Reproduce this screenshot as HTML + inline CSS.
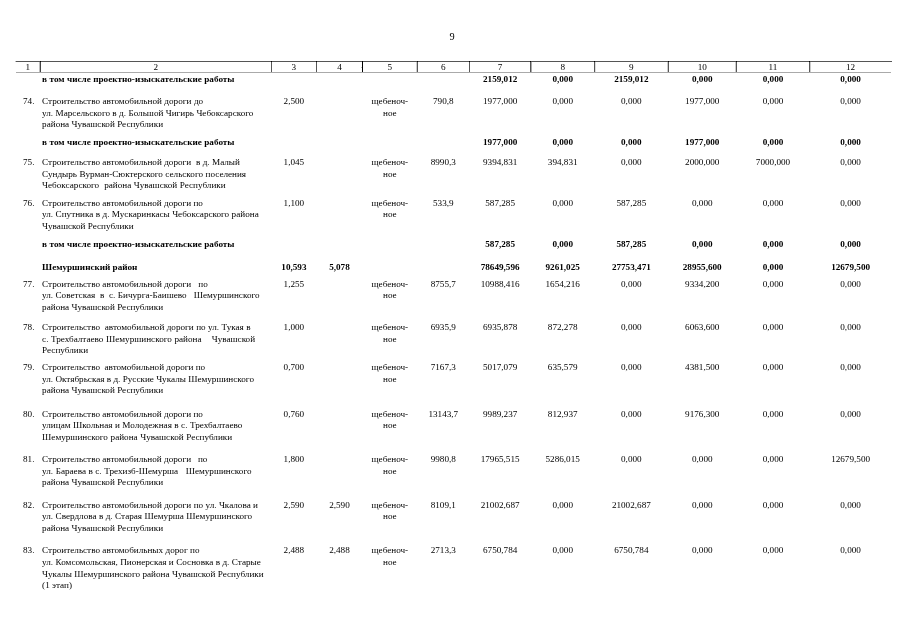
<!DOCTYPE html>
<html lang="ru"><head><meta charset="utf-8"><title>9</title>
<style>
html,body{margin:0;padding:0;background:#fff;}
body{width:905px;height:640px;position:relative;overflow:hidden;font-family:"Liberation Serif",serif;font-size:9.17px;color:#000;}
.t{position:absolute;white-space:nowrap;line-height:12.0px;height:12.0px;}
.b{font-weight:bold;}
.hl{position:absolute;height:1px;background:#000;}
.vl{position:absolute;width:1px;background:#000;}
#pg{position:absolute;left:0;top:0;width:905px;height:640px;filter:grayscale(1);}
</style></head><body><div id="pg">
<div class="hl" style="left:15px;top:61px;width:877px;background:#555"></div>
<div class="hl" style="left:15px;top:61px;width:1px;background:#bbb"></div>
<div class="hl" style="left:16px;top:72px;width:875px;background:#aaa"></div>
<div class="vl" style="left:40px;top:61px;height:11px;background:#444"></div>
<div class="vl" style="left:40px;top:61px;height:1px;background:#000"></div>
<div class="vl" style="left:39px;top:62px;height:10px;background:#bbb"></div>
<div class="vl" style="left:271px;top:61px;height:11px;background:#555"></div>
<div class="vl" style="left:271px;top:61px;height:1px;background:#000"></div>
<div class="vl" style="left:316px;top:61px;height:11px;background:#555"></div>
<div class="vl" style="left:316px;top:61px;height:1px;background:#000"></div>
<div class="vl" style="left:362px;top:61px;height:11px;background:#000"></div>
<div class="vl" style="left:362px;top:61px;height:1px;background:#000"></div>
<div class="vl" style="left:417px;top:61px;height:11px;background:#555"></div>
<div class="vl" style="left:417px;top:61px;height:1px;background:#000"></div>
<div class="vl" style="left:416px;top:62px;height:10px;background:#ccc"></div>
<div class="vl" style="left:469px;top:61px;height:11px;background:#555"></div>
<div class="vl" style="left:469px;top:61px;height:1px;background:#000"></div>
<div class="vl" style="left:530px;top:61px;height:11px;background:#555"></div>
<div class="vl" style="left:530px;top:61px;height:1px;background:#000"></div>
<div class="vl" style="left:531px;top:62px;height:10px;background:#aaa"></div>
<div class="vl" style="left:594px;top:61px;height:11px;background:#555"></div>
<div class="vl" style="left:594px;top:61px;height:1px;background:#000"></div>
<div class="vl" style="left:595px;top:62px;height:10px;background:#ddd"></div>
<div class="vl" style="left:668px;top:61px;height:11px;background:#555"></div>
<div class="vl" style="left:668px;top:61px;height:1px;background:#000"></div>
<div class="vl" style="left:667px;top:62px;height:10px;background:#ccc"></div>
<div class="vl" style="left:736px;top:61px;height:11px;background:#555"></div>
<div class="vl" style="left:736px;top:61px;height:1px;background:#000"></div>
<div class="vl" style="left:735px;top:62px;height:10px;background:#ccc"></div>
<div class="vl" style="left:809px;top:61px;height:11px;background:#555"></div>
<div class="vl" style="left:809px;top:61px;height:1px;background:#000"></div>
<div class="vl" style="left:810px;top:62px;height:10px;background:#ccc"></div>
<div class="vl" style="left:361px;top:67px;height:1px;background:#bbb"></div>
<div class="t" style="top:30.52px;font-size:10.3px;left:392.00px;width:120px;text-align:center;">9</div>
<div class="t" style="top:60.91px;left:-32.10px;width:120px;text-align:center;">1</div>
<div class="t" style="top:60.91px;left:95.85px;width:120px;text-align:center;">2</div>
<div class="t" style="top:60.91px;left:233.90px;width:120px;text-align:center;">3</div>
<div class="t" style="top:60.91px;left:279.45px;width:120px;text-align:center;">4</div>
<div class="t" style="top:60.91px;left:329.85px;width:120px;text-align:center;">5</div>
<div class="t" style="top:60.91px;left:383.30px;width:120px;text-align:center;">6</div>
<div class="t" style="top:60.91px;left:440.15px;width:120px;text-align:center;">7</div>
<div class="t" style="top:60.91px;left:502.70px;width:120px;text-align:center;">8</div>
<div class="t" style="top:60.91px;left:571.35px;width:120px;text-align:center;">9</div>
<div class="t" style="top:60.91px;left:642.25px;width:120px;text-align:center;">10</div>
<div class="t" style="top:60.91px;left:713.00px;width:120px;text-align:center;">11</div>
<div class="t" style="top:60.91px;left:790.60px;width:120px;text-align:center;">12</div>
<div class="t b" style="top:72.91px;left:42.10px;word-spacing:0.200px;">в том числе проектно-изыскательские работы</div>
<div class="t b" style="top:72.91px;left:440.15px;width:120px;text-align:center;">2159,012</div>
<div class="t b" style="top:72.91px;left:502.70px;width:120px;text-align:center;">0,000</div>
<div class="t b" style="top:72.91px;left:571.35px;width:120px;text-align:center;">2159,012</div>
<div class="t b" style="top:72.91px;left:642.25px;width:120px;text-align:center;">0,000</div>
<div class="t b" style="top:72.91px;left:713.00px;width:120px;text-align:center;">0,000</div>
<div class="t b" style="top:72.91px;left:790.60px;width:120px;text-align:center;">0,000</div>
<div class="t" style="top:94.91px;left:23.00px;">74.</div>
<div class="t" style="top:94.91px;left:42.10px;word-spacing:0.167px;">Строительство автомобильной дороги до</div>
<div class="t" style="top:106.91px;left:42.10px;word-spacing:0.083px;">ул. Марсельского в д. Большой Чигирь Чебоксарского</div>
<div class="t" style="top:117.91px;left:42.10px;">района Чувашской Республики</div>
<div class="t" style="top:94.91px;left:233.90px;width:120px;text-align:center;">2,500</div>
<div class="t" style="top:94.91px;left:329.85px;width:120px;text-align:center;">щебеноч-</div>
<div class="t" style="top:106.91px;left:329.85px;width:120px;text-align:center;">ное</div>
<div class="t" style="top:94.91px;left:383.30px;width:120px;text-align:center;">790,8</div>
<div class="t" style="top:94.91px;left:440.15px;width:120px;text-align:center;">1977,000</div>
<div class="t" style="top:94.91px;left:502.70px;width:120px;text-align:center;">0,000</div>
<div class="t" style="top:94.91px;left:571.35px;width:120px;text-align:center;">0,000</div>
<div class="t" style="top:94.91px;left:642.25px;width:120px;text-align:center;">1977,000</div>
<div class="t" style="top:94.91px;left:713.00px;width:120px;text-align:center;">0,000</div>
<div class="t" style="top:94.91px;left:790.60px;width:120px;text-align:center;">0,000</div>
<div class="t b" style="top:135.91px;left:42.10px;word-spacing:0.200px;">в том числе проектно-изыскательские работы</div>
<div class="t b" style="top:135.91px;left:440.15px;width:120px;text-align:center;">1977,000</div>
<div class="t b" style="top:135.91px;left:502.70px;width:120px;text-align:center;">0,000</div>
<div class="t b" style="top:135.91px;left:571.35px;width:120px;text-align:center;">0,000</div>
<div class="t b" style="top:135.91px;left:642.25px;width:120px;text-align:center;">1977,000</div>
<div class="t b" style="top:135.91px;left:713.00px;width:120px;text-align:center;">0,000</div>
<div class="t b" style="top:135.91px;left:790.60px;width:120px;text-align:center;">0,000</div>
<div class="t" style="top:155.91px;left:23.00px;">75.</div>
<div class="t" style="top:155.91px;left:42.10px;word-spacing:0.083px;">Строительство автомобильной дороги&nbsp; в д. Малый</div>
<div class="t" style="top:167.91px;left:42.10px;word-spacing:0.167px;">Сундырь Вурман-Сюктерского сельского поселения</div>
<div class="t" style="top:178.91px;left:42.10px;word-spacing:0.250px;">Чебоксарского&nbsp; района Чувашской Республики</div>
<div class="t" style="top:155.91px;left:233.90px;width:120px;text-align:center;">1,045</div>
<div class="t" style="top:155.91px;left:329.85px;width:120px;text-align:center;">щебеноч-</div>
<div class="t" style="top:167.91px;left:329.85px;width:120px;text-align:center;">ное</div>
<div class="t" style="top:155.91px;left:383.30px;width:120px;text-align:center;">8990,3</div>
<div class="t" style="top:155.91px;left:440.15px;width:120px;text-align:center;">9394,831</div>
<div class="t" style="top:155.91px;left:502.70px;width:120px;text-align:center;">394,831</div>
<div class="t" style="top:155.91px;left:571.35px;width:120px;text-align:center;">0,000</div>
<div class="t" style="top:155.91px;left:642.25px;width:120px;text-align:center;">2000,000</div>
<div class="t" style="top:155.91px;left:713.00px;width:120px;text-align:center;">7000,000</div>
<div class="t" style="top:155.91px;left:790.60px;width:120px;text-align:center;">0,000</div>
<div class="t" style="top:196.91px;left:23.00px;">76.</div>
<div class="t" style="top:196.91px;left:42.10px;">Строительство автомобильной дороги по</div>
<div class="t" style="top:207.91px;left:42.10px;word-spacing:0.133px;">ул. Спутника в д. Мускаринкасы Чебоксарского района</div>
<div class="t" style="top:219.91px;left:42.10px;">Чувашской Республики</div>
<div class="t" style="top:196.91px;left:233.90px;width:120px;text-align:center;">1,100</div>
<div class="t" style="top:196.91px;left:329.85px;width:120px;text-align:center;">щебеноч-</div>
<div class="t" style="top:207.91px;left:329.85px;width:120px;text-align:center;">ное</div>
<div class="t" style="top:196.91px;left:383.30px;width:120px;text-align:center;">533,9</div>
<div class="t" style="top:196.91px;left:440.15px;width:120px;text-align:center;">587,285</div>
<div class="t" style="top:196.91px;left:502.70px;width:120px;text-align:center;">0,000</div>
<div class="t" style="top:196.91px;left:571.35px;width:120px;text-align:center;">587,285</div>
<div class="t" style="top:196.91px;left:642.25px;width:120px;text-align:center;">0,000</div>
<div class="t" style="top:196.91px;left:713.00px;width:120px;text-align:center;">0,000</div>
<div class="t" style="top:196.91px;left:790.60px;width:120px;text-align:center;">0,000</div>
<div class="t b" style="top:237.91px;left:42.10px;word-spacing:0.200px;">в том числе проектно-изыскательские работы</div>
<div class="t b" style="top:237.91px;left:440.15px;width:120px;text-align:center;">587,285</div>
<div class="t b" style="top:237.91px;left:502.70px;width:120px;text-align:center;">0,000</div>
<div class="t b" style="top:237.91px;left:571.35px;width:120px;text-align:center;">587,285</div>
<div class="t b" style="top:237.91px;left:642.25px;width:120px;text-align:center;">0,000</div>
<div class="t b" style="top:237.91px;left:713.00px;width:120px;text-align:center;">0,000</div>
<div class="t b" style="top:237.91px;left:790.60px;width:120px;text-align:center;">0,000</div>
<div class="t b" style="top:260.91px;left:42.10px;">Шемуршинский район</div>
<div class="t b" style="top:260.91px;left:233.90px;width:120px;text-align:center;">10,593</div>
<div class="t b" style="top:260.91px;left:279.45px;width:120px;text-align:center;">5,078</div>
<div class="t b" style="top:260.91px;left:440.15px;width:120px;text-align:center;">78649,596</div>
<div class="t b" style="top:260.91px;left:502.70px;width:120px;text-align:center;">9261,025</div>
<div class="t b" style="top:260.91px;left:571.35px;width:120px;text-align:center;">27753,471</div>
<div class="t b" style="top:260.91px;left:642.25px;width:120px;text-align:center;">28955,600</div>
<div class="t b" style="top:260.91px;left:713.00px;width:120px;text-align:center;">0,000</div>
<div class="t b" style="top:260.91px;left:790.60px;width:120px;text-align:center;">12679,500</div>
<div class="t" style="top:277.91px;left:23.00px;">77.</div>
<div class="t" style="top:277.91px;left:42.10px;word-spacing:0.060px;">Строительство автомобильной дороги&nbsp;&nbsp; по</div>
<div class="t" style="top:288.91px;left:42.10px;word-spacing:0.067px;">ул. Советская&nbsp; в&nbsp; с. Бичурга-Баишево&nbsp;&nbsp; Шемуршинского</div>
<div class="t" style="top:300.91px;left:42.10px;">района Чувашской Республики</div>
<div class="t" style="top:277.91px;left:233.90px;width:120px;text-align:center;">1,255</div>
<div class="t" style="top:277.91px;left:329.85px;width:120px;text-align:center;">щебеноч-</div>
<div class="t" style="top:288.91px;left:329.85px;width:120px;text-align:center;">ное</div>
<div class="t" style="top:277.91px;left:383.30px;width:120px;text-align:center;">8755,7</div>
<div class="t" style="top:277.91px;left:440.15px;width:120px;text-align:center;">10988,416</div>
<div class="t" style="top:277.91px;left:502.70px;width:120px;text-align:center;">1654,216</div>
<div class="t" style="top:277.91px;left:571.35px;width:120px;text-align:center;">0,000</div>
<div class="t" style="top:277.91px;left:642.25px;width:120px;text-align:center;">9334,200</div>
<div class="t" style="top:277.91px;left:713.00px;width:120px;text-align:center;">0,000</div>
<div class="t" style="top:277.91px;left:790.60px;width:120px;text-align:center;">0,000</div>
<div class="t" style="top:320.91px;left:23.00px;">78.</div>
<div class="t" style="top:320.91px;left:42.10px;word-spacing:0.129px;">Строительство&nbsp; автомобильной дороги по ул. Тукая в</div>
<div class="t" style="top:332.91px;left:42.10px;word-spacing:0.271px;">с. Трехбалтаево Шемуршинского района&nbsp;&nbsp;&nbsp; Чувашской</div>
<div class="t" style="top:343.91px;left:42.10px;">Республики</div>
<div class="t" style="top:320.91px;left:233.90px;width:120px;text-align:center;">1,000</div>
<div class="t" style="top:320.91px;left:329.85px;width:120px;text-align:center;">щебеноч-</div>
<div class="t" style="top:332.91px;left:329.85px;width:120px;text-align:center;">ное</div>
<div class="t" style="top:320.91px;left:383.30px;width:120px;text-align:center;">6935,9</div>
<div class="t" style="top:320.91px;left:440.15px;width:120px;text-align:center;">6935,878</div>
<div class="t" style="top:320.91px;left:502.70px;width:120px;text-align:center;">872,278</div>
<div class="t" style="top:320.91px;left:571.35px;width:120px;text-align:center;">0,000</div>
<div class="t" style="top:320.91px;left:642.25px;width:120px;text-align:center;">6063,600</div>
<div class="t" style="top:320.91px;left:713.00px;width:120px;text-align:center;">0,000</div>
<div class="t" style="top:320.91px;left:790.60px;width:120px;text-align:center;">0,000</div>
<div class="t" style="top:360.91px;left:23.00px;">79.</div>
<div class="t" style="top:360.91px;left:42.10px;">Строительство&nbsp; автомобильной дороги по</div>
<div class="t" style="top:372.91px;left:42.10px;">ул. Октябрьская в д. Русские Чукалы Шемуршинского</div>
<div class="t" style="top:383.91px;left:42.10px;">района Чувашской Республики</div>
<div class="t" style="top:360.91px;left:233.90px;width:120px;text-align:center;">0,700</div>
<div class="t" style="top:360.91px;left:329.85px;width:120px;text-align:center;">щебеноч-</div>
<div class="t" style="top:372.91px;left:329.85px;width:120px;text-align:center;">ное</div>
<div class="t" style="top:360.91px;left:383.30px;width:120px;text-align:center;">7167,3</div>
<div class="t" style="top:360.91px;left:440.15px;width:120px;text-align:center;">5017,079</div>
<div class="t" style="top:360.91px;left:502.70px;width:120px;text-align:center;">635,579</div>
<div class="t" style="top:360.91px;left:571.35px;width:120px;text-align:center;">0,000</div>
<div class="t" style="top:360.91px;left:642.25px;width:120px;text-align:center;">4381,500</div>
<div class="t" style="top:360.91px;left:713.00px;width:120px;text-align:center;">0,000</div>
<div class="t" style="top:360.91px;left:790.60px;width:120px;text-align:center;">0,000</div>
<div class="t" style="top:407.91px;left:23.00px;">80.</div>
<div class="t" style="top:407.91px;left:42.10px;">Строительство автомобильной дороги по</div>
<div class="t" style="top:418.91px;left:42.10px;word-spacing:0.167px;">улицам Школьная и Молодежная в с. Трехбалтаево</div>
<div class="t" style="top:430.91px;left:42.10px;word-spacing:0.333px;">Шемуршинского района Чувашской Республики</div>
<div class="t" style="top:407.91px;left:233.90px;width:120px;text-align:center;">0,760</div>
<div class="t" style="top:407.91px;left:329.85px;width:120px;text-align:center;">щебеноч-</div>
<div class="t" style="top:418.91px;left:329.85px;width:120px;text-align:center;">ное</div>
<div class="t" style="top:407.91px;left:383.30px;width:120px;text-align:center;">13143,7</div>
<div class="t" style="top:407.91px;left:440.15px;width:120px;text-align:center;">9989,237</div>
<div class="t" style="top:407.91px;left:502.70px;width:120px;text-align:center;">812,937</div>
<div class="t" style="top:407.91px;left:571.35px;width:120px;text-align:center;">0,000</div>
<div class="t" style="top:407.91px;left:642.25px;width:120px;text-align:center;">9176,300</div>
<div class="t" style="top:407.91px;left:713.00px;width:120px;text-align:center;">0,000</div>
<div class="t" style="top:407.91px;left:790.60px;width:120px;text-align:center;">0,000</div>
<div class="t" style="top:452.91px;left:23.00px;">81.</div>
<div class="t" style="top:452.91px;left:42.10px;">Строительство автомобильной дороги&nbsp;&nbsp; по</div>
<div class="t" style="top:464.91px;left:42.10px;word-spacing:0.229px;">ул. Бараева в с. Трехизб-Шемурша&nbsp;&nbsp; Шемуршинского</div>
<div class="t" style="top:475.91px;left:42.10px;">района Чувашской Республики</div>
<div class="t" style="top:452.91px;left:233.90px;width:120px;text-align:center;">1,800</div>
<div class="t" style="top:452.91px;left:329.85px;width:120px;text-align:center;">щебеноч-</div>
<div class="t" style="top:464.91px;left:329.85px;width:120px;text-align:center;">ное</div>
<div class="t" style="top:452.91px;left:383.30px;width:120px;text-align:center;">9980,8</div>
<div class="t" style="top:452.91px;left:440.15px;width:120px;text-align:center;">17965,515</div>
<div class="t" style="top:452.91px;left:502.70px;width:120px;text-align:center;">5286,015</div>
<div class="t" style="top:452.91px;left:571.35px;width:120px;text-align:center;">0,000</div>
<div class="t" style="top:452.91px;left:642.25px;width:120px;text-align:center;">0,000</div>
<div class="t" style="top:452.91px;left:713.00px;width:120px;text-align:center;">0,000</div>
<div class="t" style="top:452.91px;left:790.60px;width:120px;text-align:center;">12679,500</div>
<div class="t" style="top:498.91px;left:23.00px;">82.</div>
<div class="t" style="top:498.91px;left:42.10px;word-spacing:0.083px;">Строительство автомобильной дороги по ул. Чкалова и</div>
<div class="t" style="top:509.91px;left:42.10px;word-spacing:0.133px;">ул. Свердлова в д. Старая Шемурша Шемуршинского</div>
<div class="t" style="top:521.91px;left:42.10px;">района Чувашской Республики</div>
<div class="t" style="top:498.91px;left:233.90px;width:120px;text-align:center;">2,590</div>
<div class="t" style="top:498.91px;left:279.45px;width:120px;text-align:center;">2,590</div>
<div class="t" style="top:498.91px;left:329.85px;width:120px;text-align:center;">щебеноч-</div>
<div class="t" style="top:509.91px;left:329.85px;width:120px;text-align:center;">ное</div>
<div class="t" style="top:498.91px;left:383.30px;width:120px;text-align:center;">8109,1</div>
<div class="t" style="top:498.91px;left:440.15px;width:120px;text-align:center;">21002,687</div>
<div class="t" style="top:498.91px;left:502.70px;width:120px;text-align:center;">0,000</div>
<div class="t" style="top:498.91px;left:571.35px;width:120px;text-align:center;">21002,687</div>
<div class="t" style="top:498.91px;left:642.25px;width:120px;text-align:center;">0,000</div>
<div class="t" style="top:498.91px;left:713.00px;width:120px;text-align:center;">0,000</div>
<div class="t" style="top:498.91px;left:790.60px;width:120px;text-align:center;">0,000</div>
<div class="t" style="top:543.91px;left:23.00px;">83.</div>
<div class="t" style="top:543.91px;left:42.10px;word-spacing:0.100px;">Строительство автомобильных дорог по</div>
<div class="t" style="top:555.91px;left:42.10px;word-spacing:0.114px;">ул. Комсомольская, Пионерская и Сосновка в д. Старые</div>
<div class="t" style="top:567.91px;left:42.10px;word-spacing:0.125px;">Чукалы Шемуршинского района Чувашской Республики</div>
<div class="t" style="top:578.91px;left:42.10px;">(1 этап)</div>
<div class="t" style="top:543.91px;left:233.90px;width:120px;text-align:center;">2,488</div>
<div class="t" style="top:543.91px;left:279.45px;width:120px;text-align:center;">2,488</div>
<div class="t" style="top:543.91px;left:329.85px;width:120px;text-align:center;">щебеноч-</div>
<div class="t" style="top:555.91px;left:329.85px;width:120px;text-align:center;">ное</div>
<div class="t" style="top:543.91px;left:383.30px;width:120px;text-align:center;">2713,3</div>
<div class="t" style="top:543.91px;left:440.15px;width:120px;text-align:center;">6750,784</div>
<div class="t" style="top:543.91px;left:502.70px;width:120px;text-align:center;">0,000</div>
<div class="t" style="top:543.91px;left:571.35px;width:120px;text-align:center;">6750,784</div>
<div class="t" style="top:543.91px;left:642.25px;width:120px;text-align:center;">0,000</div>
<div class="t" style="top:543.91px;left:713.00px;width:120px;text-align:center;">0,000</div>
<div class="t" style="top:543.91px;left:790.60px;width:120px;text-align:center;">0,000</div>
</div></body></html>
